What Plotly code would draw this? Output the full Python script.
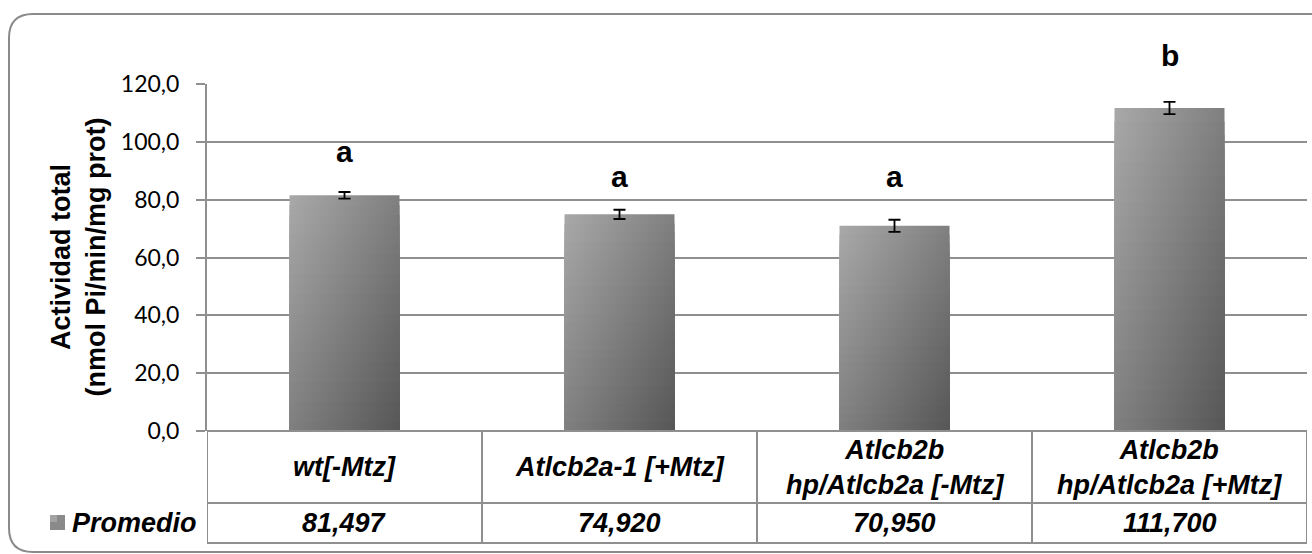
import plotly.graph_objects as go

# ---- data -------------------------------------------------------------
categories = [
    "wt[-Mtz]",
    "Atlcb2a-1 [+Mtz]",
    "Atlcb2b<br>hp/Atlcb2a [-Mtz]",
    "Atlcb2b<br>hp/Atlcb2a [+Mtz]",
]
series_name = "Promedio"
values = [81.497, 74.920, 70.950, 111.700]
value_labels = ["81,497", "74,920", "70,950", "111,700"]
errors = [1.15, 1.6, 2.1, 2.1]
letters = ["a", "a", "a", "b"]
tick_values = [0, 20, 40, 60, 80, 100, 120]
tick_labels = ["0,0", "20,0", "40,0", "60,0", "80,0", "100,0", "120,0"]

# ---- geometry / style ---------------------------------------------------
W, H = 1312, 554
ML, MR, MT, MB = 207, 5, 84, 123
PW, PH = W - ML - MR, H - MT - MB
GRID = "#8f8f8f"
TXT_FONT = "Liberation Sans, Arial, sans-serif"
TABLE_SIZE = 27
BAR_HALF = 0.2
N_BANDS = 24
letter_shift = [22, 15, 25, 28]   # px above each error-bar cap


def px_x(px):
    return (px - ML) / PW


def px_y(py):
    return (H - MB - py) / PH


def shade(t):
    lo, hi = 0xA9, 0x56
    g = round(lo + (hi - lo) * t)
    return f"rgb({g},{g},{g})"


fig = go.Figure()

# bars with diagonal grey gradient (stacked horizontal-gradient bands)
for i, v in enumerate(values):
    for k in range(N_BANDS):
        top = v * (1 - k / N_BANDS)
        vpos = (k + 0.5) / N_BANDS
        fig.add_trace(go.Scatter(
            x=[i - BAR_HALF, i + BAR_HALF, i + BAR_HALF, i - BAR_HALF, i - BAR_HALF],
            y=[0, 0, top, top, 0],
            mode="lines", line=dict(width=0),
            fill="toself",
            fillgradient=dict(
                type="horizontal",
                colorscale=[[0, shade(vpos * 0.5)], [1, shade(0.5 + vpos * 0.5)]],
            ),
            hoverinfo="skip", showlegend=False,
        ))

# error bars
fig.add_trace(go.Scatter(
    x=list(range(len(values))), y=values, mode="markers",
    marker=dict(size=1, opacity=0),
    error_y=dict(type="data", array=errors, visible=True,
                 color="black", thickness=1.8, width=6),
    name=series_name, showlegend=False,
))

annotations = []
# significance letters
for i, (v, e, L) in enumerate(zip(values, errors, letters)):
    annotations.append(dict(
        x=i, y=v + e, xref="x", yref="y", text=f"<b>{L}</b>",
        showarrow=False, yanchor="bottom", yshift=letter_shift[i],
        font=dict(family=TXT_FONT, size=30, color="black"),
    ))

# data table: category row and value row
row1_mid = px_y((431 + 503) / 2)
row2_mid = px_y((503 + 543) / 2)
for i, (c, lab) in enumerate(zip(categories, value_labels)):
    annotations.append(dict(
        x=i, y=row1_mid, xref="x", yref="paper", text=f"<b><i>{c}</i></b>",
        showarrow=False, yanchor="middle",
        font=dict(family=TXT_FONT, size=TABLE_SIZE, color="black"),
    ))
    annotations.append(dict(
        x=i, y=row2_mid, xref="x", yref="paper", text=f"<b><i>{lab}</i></b>",
        showarrow=False, yanchor="middle",
        font=dict(family=TXT_FONT, size=TABLE_SIZE, color="black"),
    ))
annotations.append(dict(
    x=px_x(70), y=row2_mid, xref="paper", yref="paper",
    text=f"<b><i>{series_name}</i></b>", showarrow=False,
    xanchor="left", yanchor="middle",
    font=dict(family=TXT_FONT, size=TABLE_SIZE, color="black"),
))

# y axis title
annotations.append(dict(
    x=px_x(78), y=0.5, xref="paper", yref="paper",
    text="<b>Actividad total<br>(nmol Pi/min/mg prot)</b>",
    showarrow=False, textangle=-90, xanchor="center", yanchor="middle",
    font=dict(family=TXT_FONT, size=27, color="black"),
))

shapes = []
line = dict(color=GRID, width=2)
y_top, y_mid, y_bot = px_y(431), px_y(503), px_y(543)
x_left_data = -0.5 - (ML - 41) / (PW / len(values))
# horizontal table rules
shapes.append(dict(type="line", xref="x", yref="paper", x0=-0.5, x1=len(values) - 0.5,
                   y0=y_top, y1=y_top, line=line))
for yy in (y_mid, y_bot):
    shapes.append(dict(type="line", xref="x", yref="paper", x0=x_left_data,
                       x1=len(values) - 0.5, y0=yy, y1=yy, line=line))
# vertical table rules
for j in range(len(values) + 1):
    shapes.append(dict(type="line", xref="x", yref="paper", x0=j - 0.5, x1=j - 0.5,
                       y0=y_top, y1=y_bot, line=line))
shapes.append(dict(type="line", xref="x", yref="paper", x0=x_left_data, x1=x_left_data,
                   y0=y_mid, y1=y_bot, line=line))

# legend key
shapes.append(dict(type="rect", xref="paper", yref="paper",
                   x0=px_x(50), x1=px_x(65), y0=px_y(530), y1=px_y(515),
                   line=dict(width=0), fillcolor="#8a8a8a"))
shapes.append(dict(type="rect", xref="paper", yref="paper",
                   x0=px_x(50), x1=px_x(57), y0=px_y(522), y1=px_y(515),
                   line=dict(width=0), fillcolor="#a3a3a3"))

# rounded outer frame
r = 24
xl, xr, yt, yb = 9, 1330, 14, 552
pts = (
    f"M {px_x(xr)} {px_y(yt)} L {px_x(xl + r)} {px_y(yt)} "
    f"Q {px_x(xl)} {px_y(yt)} {px_x(xl)} {px_y(yt + r)} "
    f"L {px_x(xl)} {px_y(yb - r)} "
    f"Q {px_x(xl)} {px_y(yb)} {px_x(xl + r)} {px_y(yb)} "
    f"L {px_x(xr)} {px_y(yb)}"
)
shapes.append(dict(type="path", xref="paper", yref="paper", path=pts,
                   line=dict(color="#8a8a8a", width=2)))

fig.update_layout(
    width=W, height=H,
    margin=dict(l=ML, r=MR, t=MT, b=MB),
    paper_bgcolor="white", plot_bgcolor="white",
    showlegend=False,
    annotations=annotations, shapes=shapes,
    xaxis=dict(range=[-0.5, len(values) - 0.5], showticklabels=False,
               showgrid=False, zeroline=False, showline=False, fixedrange=True),
    yaxis=dict(range=[0, 120], tickvals=tick_values, ticktext=tick_labels,
               showgrid=True, gridcolor=GRID, gridwidth=2,
               zeroline=False, showline=True, linecolor=GRID, linewidth=2,
               ticks="outside", ticklen=9, tickcolor=GRID, tickwidth=2,
               ticklabelstandoff=12,
               tickfont=dict(family="Lato, Carlito, sans-serif", size=23, color="black"),
               fixedrange=True),
)

fig.write_html("out.html")
